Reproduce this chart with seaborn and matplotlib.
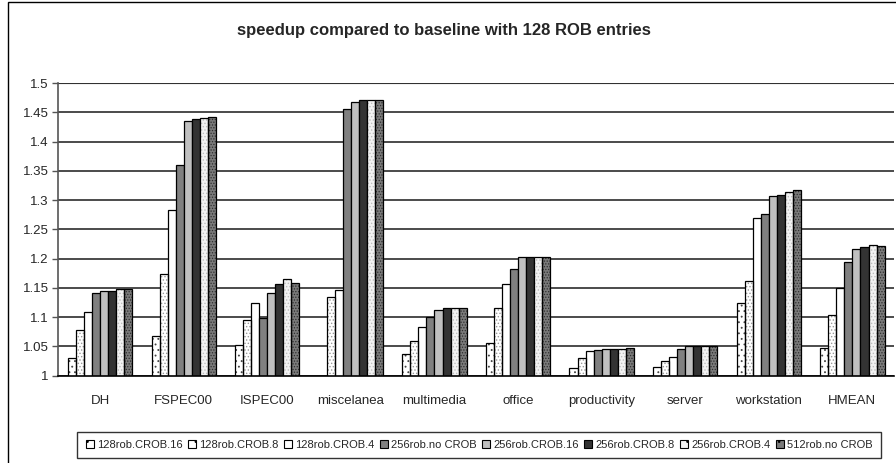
import matplotlib
matplotlib.use('Agg')
import matplotlib.pyplot as plt
import seaborn as sns
import pandas as pd
from matplotlib.patches import Rectangle

# categories and configs
categories = ['DH', 'FSPEC00', 'ISPEC00', 'miscelanea', 'multimedia',
              'office', 'productivity', 'server', 'workstation', 'HMEAN']
configs = ['128rob.CROB.16', '128rob.CROB.8', '128rob.CROB.4', '256rob.no CROB',
           '256rob.CROB.16', '256rob.CROB.8', '256rob.CROB.4', '512rob.no CROB']

# speedup per config (one value per category)
rob128_crob16 = [1.030, 1.067, 1.052, 1.000, 1.037, 1.055, 1.013, 1.015, 1.124, 1.048]
rob128_crob8 = [1.078, 1.173, 1.095, 1.134, 1.059, 1.115, 1.030, 1.025, 1.162, 1.104]
rob128_crob4 = [1.108, 1.283, 1.124, 1.147, 1.083, 1.156, 1.043, 1.032, 1.269, 1.149]
rob256_nocrob = [1.141, 1.360, 1.099, 1.456, 1.101, 1.182, 1.044, 1.046, 1.277, 1.194]
rob256_crob16 = [1.145, 1.435, 1.141, 1.468, 1.113, 1.202, 1.046, 1.050, 1.307, 1.216]
rob256_crob8 = [1.145, 1.438, 1.157, 1.471, 1.115, 1.202, 1.046, 1.050, 1.309, 1.219]
rob256_crob4 = [1.148, 1.440, 1.166, 1.471, 1.115, 1.202, 1.046, 1.051, 1.314, 1.224]
rob512_nocrob = [1.148, 1.442, 1.159, 1.471, 1.116, 1.203, 1.047, 1.051, 1.318, 1.222]

series = [rob128_crob16, rob128_crob8, rob128_crob4, rob256_nocrob,
          rob256_crob16, rob256_crob8, rob256_crob4, rob512_nocrob]

rows = []
for cfg, vals in zip(configs, series):
    for cat, v in zip(categories, vals):
        rows.append({'category': cat, 'config': cfg, 'speedup': v})
df = pd.DataFrame(rows)

# style per config (fill, hatch pattern, hatch colour)
face = ['white', 'white', 'white', '#808080', '#c0c0c0', '#333333', '#f2f2f2', '#7a7a7a']
hatch = ['...', '.....', None, None, None, None, '.....', '......']
hcol = ['#444444', '#999999', 'black', 'black', 'black', 'black', '#bdbdbd', '#2e2e2e']

sns.set_style('white')
plt.rcParams['font.family'] = ['Liberation Sans', 'DejaVu Sans']
plt.rcParams['hatch.linewidth'] = 0.6

fig = plt.figure(figsize=(8.96, 4.63), dpi=100)
ax = fig.add_axes([0.0651, 0.1886, 0.9329, 0.6321])

sns.barplot(data=df, x='category', y='speedup', hue='config', hue_order=configs,
            order=categories, palette=face, width=0.77, ax=ax,
            edgecolor='black', linewidth=0.9, saturation=1, legend=False)

n = len(categories)
bars = list(ax.patches[:n * len(configs)])
for i, p in enumerate(bars):
    k = i // n
    p.set_facecolor(face[k])
    if hatch[k]:
        # hatch takes the edge colour, so draw the black outline separately
        p.set_hatch(hatch[k])
        p.set_edgecolor(hcol[k])
        p.set_linewidth(0)
        ax.add_patch(Rectangle((p.get_x(), p.get_y()), p.get_width(), p.get_height(),
                               fill=False, edgecolor='black', linewidth=0.9, zorder=p.get_zorder()))

ax.set_ylim(1, 1.5)
ax.set_xlim(-0.5, n - 0.5)
ax.set_yticks([1 + 0.05 * i for i in range(11)])
ax.set_yticklabels(['1', '1.05', '1.1', '1.15', '1.2', '1.25', '1.3', '1.35',
                    '1.4', '1.45', '1.5'], fontsize=9.5)
ax.yaxis.grid(True, color='#1a1a1a', linewidth=1.1)
ax.set_axisbelow(True)
ax.set_xlabel('')
ax.set_ylabel('')

# category labels centred, ticks at boundaries
ax.set_xticks(range(n))
ax.set_xticklabels(categories, fontsize=9.5)
ax.tick_params(axis='x', length=0, pad=14)
ax.set_xticks([i + 0.5 for i in range(n - 1)], minor=True)
ax.tick_params(axis='x', which='minor', length=4, width=1, color='black', direction='out')
ax.tick_params(axis='y', length=4, width=1, color='#555555', direction='out', left=True, pad=3)

for s in ['top', 'right']:
    ax.spines[s].set_visible(False)
ax.spines['left'].set_color('#555555')
ax.spines['left'].set_linewidth(1.2)
ax.spines['bottom'].set_color('black')
ax.spines['bottom'].set_linewidth(1.2)
ax.axhline(1.5, color='#808080', linewidth=1.6, zorder=0.5)

fig.text(0.495, 0.935, 'speedup compared to baseline with 128 ROB entries',
         ha='center', va='center', fontsize=12, fontweight='bold')

# legend
handles = []
for k in range(len(configs)):
    h = Rectangle((0, 0), 1, 1, facecolor=face[k], edgecolor='black', linewidth=0.8,
                  hatch=('..' if hatch[k] else None))
    handles.append(h)
leg = fig.legend(handles, configs, loc='center', bbox_to_anchor=(0.535, 0.039),
                 ncol=8, fontsize=8, frameon=True, fancybox=False, handlelength=0.7,
                 handleheight=0.7, handletextpad=0.3, columnspacing=0.5,
                 borderpad=0.75, borderaxespad=0)
leg.get_frame().set_edgecolor('black')
leg.get_frame().set_linewidth(1.0)

# outer chart frame
fig.patches.append(Rectangle((8 / 896, -0.2), 1.2, 1.2 - 2 / 463, transform=fig.transFigure,
                             fill=False, edgecolor='black', linewidth=1.0))

fig.savefig('out.png', dpi=100)
